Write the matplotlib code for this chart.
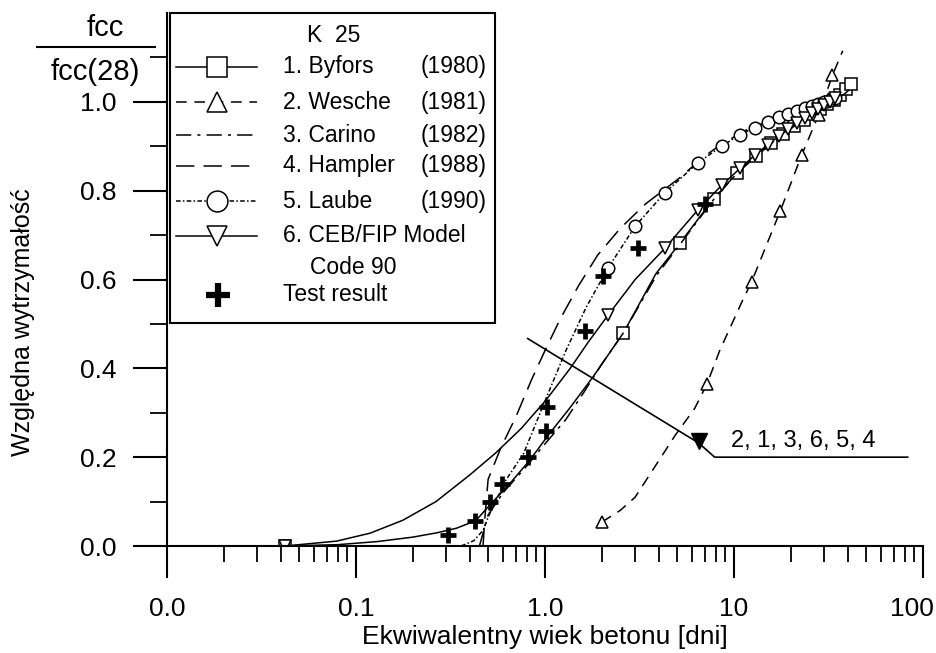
import numpy as np
import matplotlib
matplotlib.use("Agg")
import matplotlib.pyplot as plt
from matplotlib.ticker import FixedLocator, NullFormatter, LogLocator
from matplotlib.lines import Line2D
from matplotlib.patches import Rectangle
from matplotlib.transforms import ScaledTranslation

plt.rcParams['font.family'] = ['Liberation Sans', 'DejaVu Sans']

# --- data (age in days, relative strength) ---
byfors_t = [0.042, 0.08, 0.13, 0.2, 0.27, 0.34, 0.43, 0.51, 0.65, 0.83, 1.06, 1.36, 1.79,
            2.6, 3.86, 5.2, 7.8, 10.4, 13.0, 15.6, 18.2, 20.8, 23.4, 26.0, 28.6, 31.2,
            33.8, 36.4, 39.0, 41.6]
byfors_f = [0.0, 0.003, 0.01, 0.02, 0.03, 0.04, 0.057, 0.092, 0.14, 0.193, 0.254, 0.312, 0.38,
            0.48, 0.613, 0.683, 0.782, 0.84, 0.879, 0.908, 0.928, 0.946, 0.96, 0.972, 0.983,
            0.995, 1.005, 1.015, 1.03, 1.04]
byfors_marks = [0, 13, 15, 16, 17, 18, 19, 20, 21, 22, 23, 24, 25, 26, 27, 28, 29]

wesche_t = [2.0, 2.5, 3.0, 3.7, 4.9, 6.2, 7.2, 8.4, 11.1, 12.4, 17.6, 22.8, 28.0, 33.2, 37.6]
wesche_f = [0.054, 0.08, 0.11, 0.17, 0.25, 0.31, 0.365, 0.44, 0.553, 0.595, 0.755, 0.88, 0.97,
            1.06, 1.115]
wesche_marks = [0, 6, 9, 10, 11, 12, 13]

carino_t = [0.45, 0.5, 0.6, 0.8, 1.0, 1.29, 1.6, 2.0, 2.6, 3.9, 5.2, 7.8, 10.4, 15.6, 20.8,
            28.6, 36.4, 41.6]
carino_f = [0.0, 0.07, 0.12, 0.18, 0.23, 0.285, 0.345, 0.41, 0.48, 0.61, 0.68, 0.78, 0.84,
            0.905, 0.945, 0.98, 1.01, 1.03]

hampler_t = [0.47, 0.48, 0.5, 0.585, 0.7, 0.85, 1.0, 1.2, 1.5, 1.9, 2.5, 3.4, 5.2, 6.85, 8.6,
             12.0, 20.0, 34.4]
hampler_f = [0.0, 0.06, 0.15, 0.222, 0.29, 0.375, 0.44, 0.51, 0.585, 0.655, 0.715, 0.77, 0.83,
             0.875, 0.905, 0.94, 0.975, 1.008]

laube_t = [0.36, 0.42, 0.47, 0.5, 0.62, 0.77, 1.04, 1.29, 1.65, 2.15, 3.0, 4.3, 6.45, 8.6,
           10.75, 12.9, 15.05, 17.2, 19.35, 21.5, 23.65, 25.8, 27.95, 30.1, 32.25, 34.4]
laube_f = [0.0, 0.012, 0.035, 0.065, 0.148, 0.208, 0.344, 0.44, 0.537, 0.625, 0.72, 0.795,
           0.863, 0.9, 0.926, 0.942, 0.955, 0.965, 0.973, 0.98, 0.986, 0.991, 0.996, 1.0,
           1.004, 1.008]
laube_marks = list(range(9, 26))

ceb_t = [0.042, 0.079, 0.119, 0.177, 0.265, 0.4, 0.55, 0.75, 1.01, 1.36, 1.7, 2.15,
         3.0, 4.3, 6.45, 8.6, 10.75, 12.9, 15.05, 17.2, 19.35, 21.5, 23.65, 25.8, 27.95,
         30.1, 32.25, 34.4]
ceb_f = [0.0, 0.011, 0.029, 0.058, 0.1, 0.16, 0.21, 0.265, 0.328, 0.4, 0.46, 0.519,
         0.6, 0.67, 0.757, 0.812, 0.85, 0.88, 0.903, 0.922, 0.938, 0.952, 0.964, 0.974,
         0.983, 0.992, 1.0, 1.008]
ceb_marks = [0, 11] + list(range(13, 28))

test_t = [0.307, 0.426, 0.51, 0.59, 0.81, 1.01, 1.02, 1.63, 2.03, 3.1, 7.0]
test_f = [0.025, 0.057, 0.1, 0.14, 0.2, 0.26, 0.312, 0.485, 0.607, 0.67, 0.77]

x_ticks = [0.01, 0.1, 1, 10, 100]
x_labels = ['0.0', '0.1', '1.0', '10', '100']
y_ticks = [0.0, 0.2, 0.4, 0.6, 0.8, 1.0]
y_labels = ['0.0', '0.2', '0.4', '0.6', '0.8', '1.0']

# --- styles ---
ls_wesche = (0, (7, 5))
ls_carino = (0, (10, 4, 2, 4))
ls_hampler = (0, (12, 6))
ls_laube = (0, (3, 1.5, 1, 1.5))
lw = 1.1
mk = dict(mfc='white', mec='black', mew=1.1, color='black')

fig = plt.figure(figsize=(9.37, 6.53), dpi=100)
ax = fig.add_axes([167 / 937, 1 - 546 / 653, 756 / 937, 533 / 653])
ax.set_xscale('log')

ax.plot(byfors_t, byfors_f, '-', lw=lw, marker='s', ms=9, markevery=byfors_marks, **mk)
ax.plot(wesche_t, wesche_f, linestyle=ls_wesche, lw=lw, marker='^', ms=9,
        markevery=wesche_marks, **mk)
ax.plot(carino_t, carino_f, linestyle=ls_carino, lw=lw, color='black')
ax.plot(hampler_t, hampler_f, linestyle=ls_hampler, lw=lw, color='black')
ax.plot(laube_t, laube_f, linestyle=ls_laube, lw=lw, marker='o', ms=9,
        markevery=laube_marks, **mk)
ax.plot(ceb_t, ceb_f, '-', lw=lw, marker='v', ms=9, markevery=ceb_marks, **mk)
ax.plot(test_t, test_f, linestyle='none', marker='+', ms=12, mew=3.4, color='black')

# annotation with curve order
ax.plot([0.81, 6.5], [0.467, 0.232], color='black', lw=1.2)
ax.plot([6.5, 7.9, 83], [0.232, 0.2, 0.2], color='black', lw=1.2, clip_on=False)
ax.plot([6.55], [0.236], marker='v', ms=11, color='black', linestyle='none')
ax.text(9.6, 0.236, '2, 1, 3, 6, 5, 4', fontsize=17, ha='left', va='center')

# axes styling
ax.set_xlim(0.01, 100)
ax.set_ylim(0, 1.2)
for s in ['top', 'right']:
    ax.spines[s].set_visible(False)
for s in ['left', 'bottom']:
    ax.spines[s].set_linewidth(1.5)

ax.xaxis.set_major_locator(FixedLocator(x_ticks))
ax.set_xticklabels(x_labels)
ax.xaxis.set_minor_locator(LogLocator(base=10, subs=np.arange(2, 10)))
ax.xaxis.set_minor_formatter(NullFormatter())
ax.set_yticks(y_ticks)
ax.set_yticklabels(y_labels)
ax.set_yticks([0.1, 0.3, 0.5, 0.7, 0.9, 1.1], minor=True)

ax.tick_params(axis='x', which='major', length=23, width=1.5, labelsize=19, pad=14)
ax.tick_params(axis='x', which='minor', length=11.5, width=1.3)
ax.tick_params(axis='y', which='major', length=24.5, width=1.5, labelsize=19, pad=12)
ax.tick_params(axis='y', which='minor', length=12, width=1.3)

# keep the "100" label inside the figure edge
last = ax.get_xticklabels()[-1]
last.set_transform(last.get_transform() + ScaledTranslation(-11 / 100, 0, fig.dpi_scale_trans))

ax.set_xlabel('Ekwiwalentny wiek betonu [dni]', fontsize=19)
ax.xaxis.set_label_coords(0.5, -0.148)
ax.set_ylabel('Względna wytrzymałość', fontsize=18, va='center')
ax.yaxis.set_label_coords(-0.19, 0.42)

# fcc / fcc(28) label
fig.text(105 / 937, 1 - 28 / 653, 'fcc', fontsize=21, ha='center', va='center')
fig.text(95 / 937, 1 - 72 / 653, 'fcc(28)', fontsize=21, ha='center', va='center')
fig.add_artist(Line2D([37 / 937, 155 / 937], [1 - 47 / 653, 1 - 47 / 653],
                      color='black', lw=1.5))

# hand-built legend box
ax.add_patch(Rectangle((0.004, 0.419), 0.43, 0.581, transform=ax.transAxes,
                       fill=True, fc='white', ec='black', lw=1.5, clip_on=False, zorder=5))
leg_fs = 16.5
ax.text(0.221, 0.957, 'K  25', transform=ax.transAxes, fontsize=leg_fs, ha='center',
        va='center', zorder=6)
rows = [
    ('1. Byfors', '(1980)', '-', 's', 0.899),
    ('2. Wesche', '(1981)', ls_wesche, '^', 0.833),
    ('3. Carino', '(1982)', ls_carino, None, 0.771),
    ('4. Hampler', '(1988)', ls_hampler, None, 0.713),
    ('5. Laube', '(1990)', ls_laube, 'o', 0.647),
    ('6. CEB/FIP Model', '', '-', 'v', 0.582),
]
for name, year, ls, m, yy in rows:
    ax.plot([0.012, 0.119], [yy, yy], linestyle=ls, lw=lw, color='black',
            transform=ax.transAxes, clip_on=False, zorder=6)
    if m is not None:
        ax.plot([0.066], [yy], linestyle='none', marker=m, ms=15,
                transform=ax.transAxes, clip_on=False, zorder=7, **mk)
    ax.text(0.153, yy, name, transform=ax.transAxes, fontsize=leg_fs, ha='left',
            va='center', zorder=6)
    if year:
        ax.text(0.423, yy, year, transform=ax.transAxes, fontsize=leg_fs, ha='right',
                va='center', zorder=6)
ax.text(0.189, 0.523, 'Code 90', transform=ax.transAxes, fontsize=leg_fs, ha='left',
        va='center', zorder=6)
ax.plot([0.068], [0.471], linestyle='none', marker='+', ms=17, mew=4.5, color='black',
        transform=ax.transAxes, clip_on=False, zorder=7)
ax.text(0.153, 0.471, 'Test result', transform=ax.transAxes, fontsize=leg_fs, ha='left',
        va='center', zorder=6)

fig.savefig('out.png', dpi=100)
